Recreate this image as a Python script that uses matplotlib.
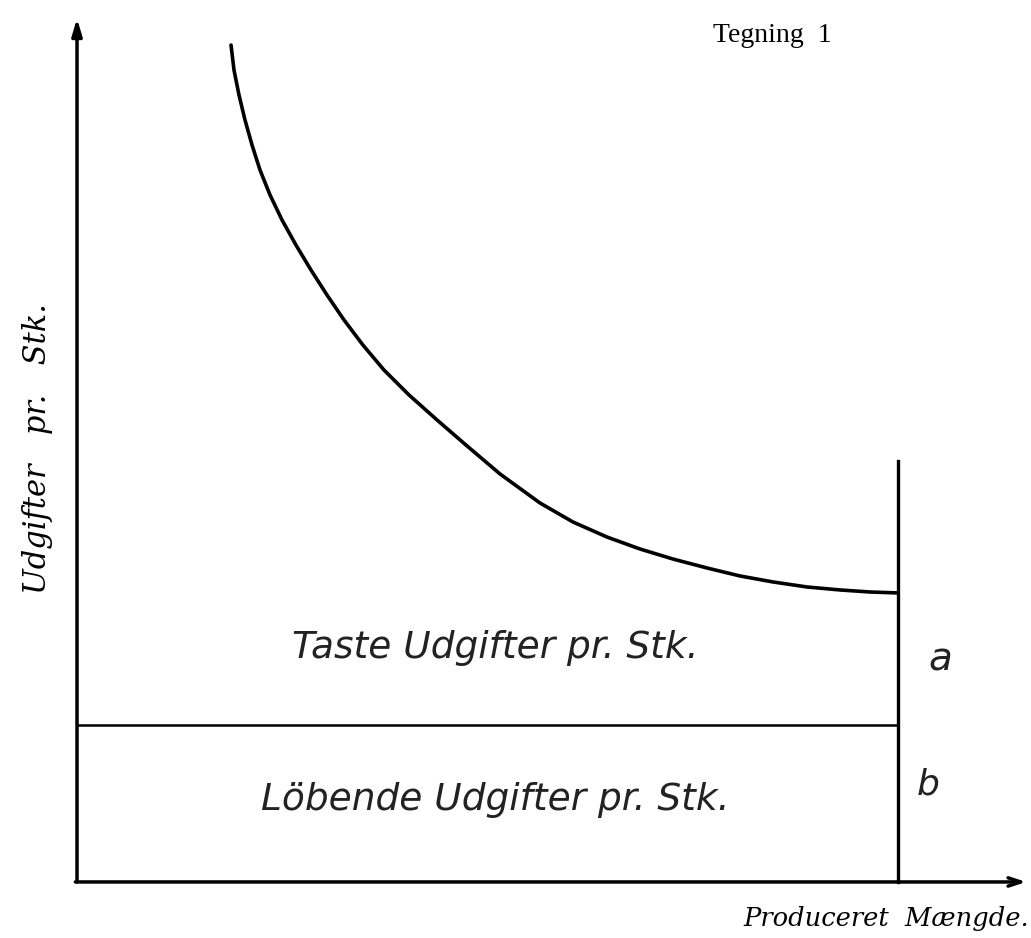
import matplotlib.pyplot as plt

# cost per unit curve (fixed + running)
qty = [18.76, 19.12, 19.73, 20.46, 21.32, 22.29, 23.51, 24.97, 26.67, 28.50,
       30.45, 32.52, 34.83, 37.39, 40.44, 43.85, 47.38, 51.52, 56.39, 60.41,
       64.56, 68.57, 72.59, 76.74, 80.76, 84.77, 88.92, 92.94, 96.59, 100.0]
cost = [5.331, 5.172, 5.013, 4.854, 4.694, 4.535, 4.376, 4.217, 4.057, 3.898,
        3.739, 3.580, 3.420, 3.261, 3.102, 2.943, 2.783, 2.599, 2.414, 2.293,
        2.197, 2.121, 2.057, 2.000, 1.949, 1.911, 1.879, 1.860, 1.847, 1.841]

running = 1.0      # "b" level
q_end = 100.0      # produced amount (vertical line)
v_top = 2.68       # top of vertical line
x_max = 115.6
y_max = 5.5

fig = plt.figure(figsize=(10.31, 9.38), dpi=100)
ax = fig.add_axes([0, 0, 1, 1])
ax.set_xlim(-9.38, 116.2)
ax.set_ylim(-0.357, 5.618)
ax.axis("off")

# axes with arrows
ax.annotate("", xy=(0, y_max), xytext=(0, 0),
            arrowprops=dict(arrowstyle="-|>,head_length=1.0,head_width=0.3",
                            color="black", lw=2.5, shrinkA=0, shrinkB=0))
ax.annotate("", xy=(x_max, 0), xytext=(-0.2, 0),
            arrowprops=dict(arrowstyle="->,head_length=0.9,head_width=0.3",
                            color="black", lw=2.5, shrinkA=0, shrinkB=0))

ax.plot(qty, cost, color="black", lw=2.6, solid_capstyle="round",
        solid_joinstyle="round")
ax.plot([0, q_end], [running, running], color="black", lw=1.8)
ax.plot([q_end, q_end], [0, v_top], color="black", lw=2.4)

script = dict(family="DejaVu Sans", style="italic", fontsize=27,
              weight="light", color="#222222")
ax.text(50.9, 1.49, "Taste Udgifter pr. Stk.", ha="center", va="center", **script)
ax.text(50.9, 0.52, "Löbende Udgifter pr. Stk.", ha="center", va="center", **script)
ax.text(105.1, 1.42, "a", ha="center", va="center", **dict(script, fontsize=28))
ax.text(103.7, 0.62, "b", ha="center", va="center", **dict(script, fontsize=26))

ax.text(84.7, 5.395, "Tegning  1", ha="center", va="center",
        family="Liberation Serif", fontsize=20)
ax.text(115.9, -0.23, "Produceret  Mængde.", ha="right", va="center",
        family="DejaVu Serif", style="italic", fontsize=18.5)
ax.text(-4.87, 2.76, "Udgifter   pr.   Stk.", ha="center", va="center",
        family="DejaVu Serif", style="italic", fontsize=22, rotation=90)

fig.savefig("out.png", dpi=100)
